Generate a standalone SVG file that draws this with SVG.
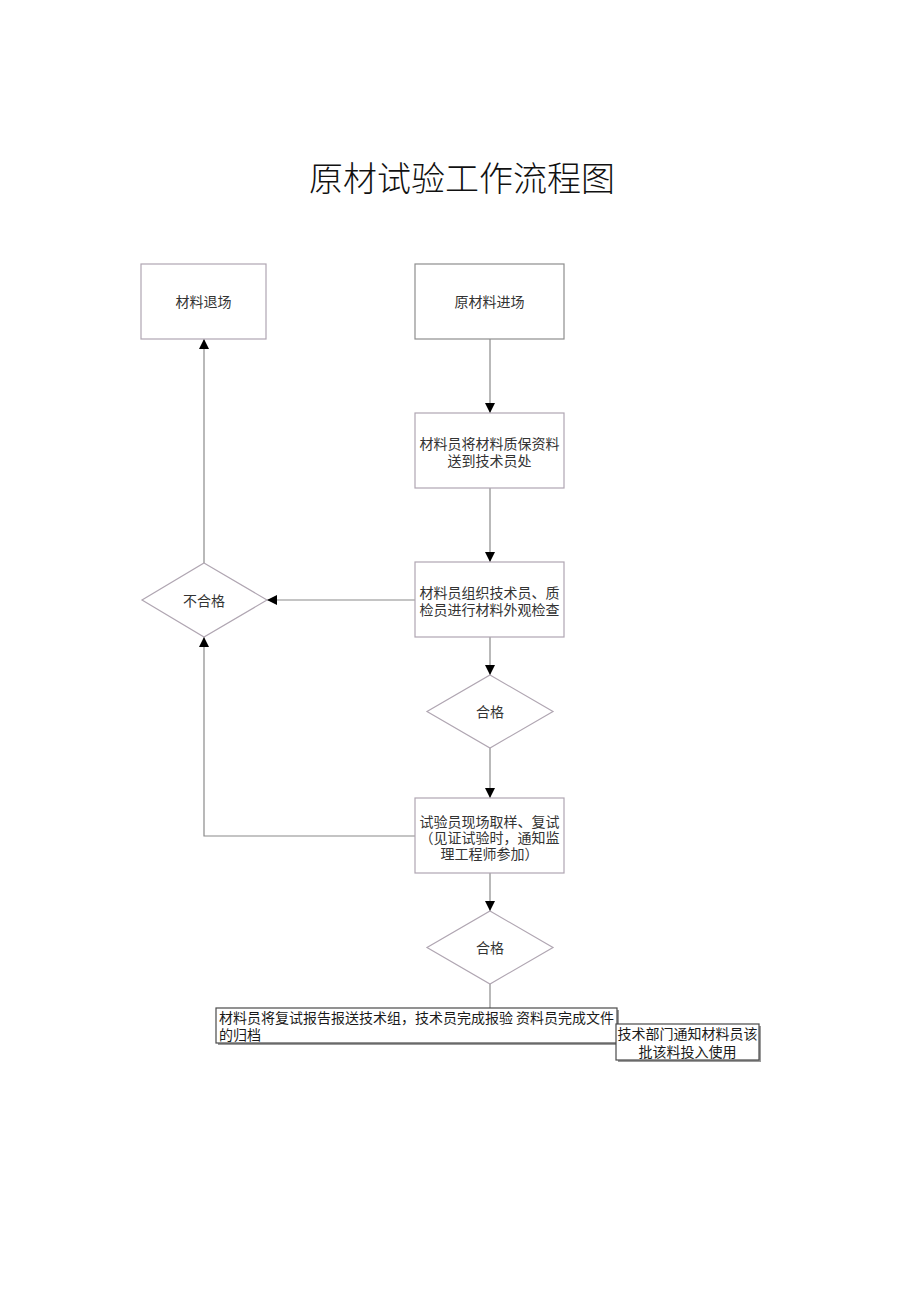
<svg xmlns="http://www.w3.org/2000/svg" width="920" height="1301" viewBox="0 0 920 1301">
<style>
.bg{fill:#ffffff}
.n{fill:#ffffff;stroke:#b0a6b2;stroke-width:1.2}
.nd{fill:#ffffff;stroke:#4a4a4a;stroke-width:1.2}
.sh{fill:#9a9a9a}
.t{font-family:"Noto Sans CJK SC","Noto Sans CJK JP",sans-serif;font-size:14px;fill:#333333;text-anchor:middle;dominant-baseline:central}
.tl{font-family:"Noto Sans CJK SC","Noto Sans CJK JP",sans-serif;font-size:14px;fill:#1a1a1a;dominant-baseline:central}
.title{font-family:"Noto Sans CJK SC","Noto Sans CJK JP",sans-serif;font-size:34px;font-weight:300;fill:#111111;text-anchor:middle;dominant-baseline:central}
.c{fill:none;stroke:#8a8a8a;stroke-width:1.2}
</style>
<defs>
<marker id="ah" viewBox="0 0 10 10" refX="10" refY="5" markerWidth="10" markerHeight="10" markerUnits="userSpaceOnUse" orient="auto">
<path d="M0,0 L10,5 L0,10 Z" fill="#000000"/>
</marker>
</defs>
<rect class="bg" x="0" y="0" width="920" height="1301"/>
<text class="title" x="462" y="176">原材试验工作流程图</text>

<g id="connectors">
<line class="c" x1="490" y1="339" x2="490" y2="413" marker-end="url(#ah)"/>
<line class="c" x1="490" y1="488" x2="490" y2="562" marker-end="url(#ah)"/>
<line class="c" x1="490" y1="637" x2="490" y2="675" marker-end="url(#ah)"/>
<line class="c" x1="490" y1="748" x2="490" y2="798" marker-end="url(#ah)"/>
<line class="c" x1="490" y1="873" x2="490" y2="911" marker-end="url(#ah)"/>
<line class="c" x1="490" y1="984" x2="490" y2="1008"/>
<line class="c" x1="415" y1="600" x2="267" y2="600" marker-end="url(#ah)"/>
<line class="c" x1="204" y1="563" x2="204" y2="339" marker-end="url(#ah)"/>
<polyline class="c" points="415,836 204,836 204,637" marker-end="url(#ah)"/>
</g>

<g id="n_retreat">
<rect class="n" x="141" y="264" width="125" height="75"/>
<text class="t" x="203.5" y="301">材料退场</text>
</g>
<g id="n_enter">
<rect class="n" x="415" y="264" width="149" height="75" style="stroke:#8e8e8e"/>
<text class="t" x="489.5" y="301">原材料进场</text>
</g>
<g id="n_send">
<rect class="n" x="415" y="413" width="149" height="75"/>
<text class="t" x="489.5" y="443">材料员将材料质保资料</text>
<text class="t" x="489.5" y="460">送到技术员处</text>
</g>
<g id="n_inspect">
<rect class="n" x="415" y="562" width="149" height="75"/>
<text class="t" x="489.5" y="592">材料员组织技术员、质</text>
<text class="t" x="489.5" y="609">检员进行材料外观检查</text>
</g>
<g id="n_fail">
<polygon class="n" points="204,563 267,600 204,637 142,600"/>
<text class="t" x="204" y="600">不合格</text>
</g>
<g id="n_pass1">
<polygon class="n" points="490,675 553,711.5 490,748 427,711.5"/>
<text class="t" x="490" y="711">合格</text>
</g>
<g id="n_sample">
<rect class="n" x="415" y="798" width="149" height="75"/>
<text class="t" x="489.5" y="821">试验员现场取样、复试</text>
<text class="t" x="489.5" y="837">（见证试验时，通知监</text>
<text class="t" x="489.5" y="853">理工程师参加）</text>
</g>
<g id="n_pass2">
<polygon class="n" points="490,911 553,947.5 490,984 427,947.5"/>
<text class="t" x="490" y="947">合格</text>
</g>
<g id="n_report">
<rect class="sh" x="218" y="1010" width="401" height="35"/>
<rect class="nd" x="216" y="1008" width="401" height="35"/>
<text class="tl" x="219" y="1017" textLength="395" lengthAdjust="spacingAndGlyphs">材料员将复试报告报送技术组，技术员完成报验 资料员完成文件</text>
<text class="tl" x="219" y="1034">的归档</text>
</g>
<g id="n_notify">
<rect class="sh" x="618" y="1026" width="143" height="36"/>
<rect class="nd" x="616" y="1024" width="143" height="36"/>
<text class="t" x="687.5" y="1033" style="fill:#1a1a1a">技术部门通知材料员该</text>
<text class="t" x="687.5" y="1051" style="fill:#1a1a1a">批该料投入使用</text>
</g>
</svg>
